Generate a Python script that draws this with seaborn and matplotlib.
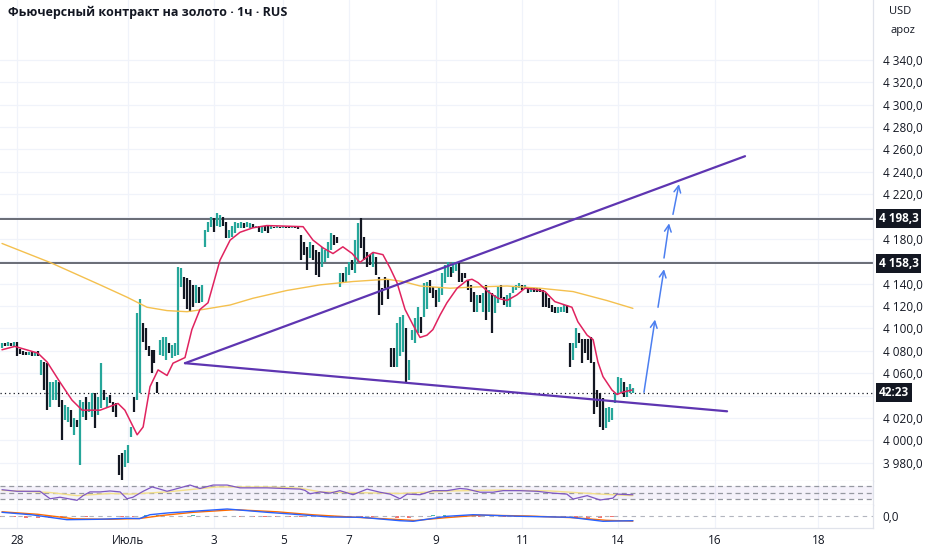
import numpy as np
import pandas as pd
import matplotlib
matplotlib.use("Agg")
import matplotlib.pyplot as plt
import matplotlib.transforms as mtransforms
import seaborn as sns

# Hourly bars (price), 1 = up bar (teal), 0 = down bar (black)
highs = [
    4087, 4087, 4088, 4087, 4088, 4088, 4082, 4080, 4079, 4079, 4079, 4079,
    4080, 4072, 4070, 4069, 4052, 4052, 4054, 4052, 4036, 4032, 4030, 4027,
    4020, 4018, 4036, 4034, 4039, 4034, 4042, 4042, 4039, 4069, 4045, 4039,
    4041, 4034, 4033, 3987, 3989, 3991, 3996, 4012, 4039, 4114, 4126, 4105,
    4100, 4084, 4081, 4081, 4052, 4090, 4092, 4092, 4087, 4085, 4087, 4155,
    4154, 4146, 4145, 4143, 4139, 4139, 4137, 4139, 4188, 4195, 4200, 4199,
    4203, 4201,
    4200, 4195, 4188, 4192, 4195, 4194, 4195, 4194, 4195, 4194, 4193, 4192,
    4192, 4192, 4192, 4192, 4192, 4191, 4192, 4191, 4192, 4191, 4191, 4192,
    4191, 4191, 4184, 4177, 4173, 4177, 4175, 4170, 4168, 4173, 4170, 4177,
    4185, 4184, 4182, 4150, 4150, 4155, 4159, 4161, 4179, 4194, 4199, 4182,
    4168, 4166, 4168, 4164, 4146, 4136, 4146, 4143, 4083, 4083, 4105, 4110,
    4112, 4100, 4072, 4099, 4109, 4119, 4110, 4141, 4142,
    4143, 4137, 4134, 4137, 4150, 4157, 4159, 4155, 4159, 4159, 4159, 4150,
    4150, 4143, 4139, 4133, 4130, 4130, 4132, 4139, 4134, 4132, 4130, 4137,
    4139, 4128, 4130, 4132, 4137, 4139, 4141, 4139, 4139, 4137, 4136, 4136,
    4136, 4136, 4134, 4132, 4127, 4121, 4119, 4119, 4119, 4121, 4121, 4087,
    4087, 4100, 4096, 4091, 4091, 4091, 4092, 4070, 4045, 4042, 4038, 4029,
    4030, 4029, 4042, 4057, 4056, 4052, 4048, 4050, 4047,
]
lows = [
    4083, 4084, 4084, 4084, 4084, 4075, 4077, 4076, 4076, 4076, 4075, 4075,
    4075, 4058, 4045, 4027, 4030, 4036, 4036, 4030, 4000, 4018, 4016, 4012,
    4005, 4012, 3978, 4021, 4018, 4025, 4021, 4011, 4023, 4029, 4036, 4029,
    4033, 4025, 4021, 3969, 3965, 3976, 3980, 4003, 4025, 4036, 4042, 4088,
    4081, 4075, 4060, 4069, 4042, 4076, 4075, 4072, 4078, 4074, 4075, 4076,
    4137, 4126, 4117, 4115, 4119, 4123, 4123, 4124, 4173, 4186, 4191, 4186,
    4192, 4191,
    4192, 4181, 4181, 4182, 4185, 4190, 4190, 4190, 4191, 4190, 4190, 4190,
    4186, 4185, 4187, 4185, 4189, 4190, 4190, 4190, 4190, 4190, 4190, 4190,
    4190, 4189, 4161, 4166, 4152, 4163, 4161, 4148, 4146, 4155, 4159, 4163,
    4170, 4175, 4176, 4137, 4141, 4142, 4148, 4152, 4150, 4159, 4172, 4161,
    4155, 4157, 4155, 4148, 4112, 4121, 4136, 4126, 4066, 4066, 4066, 4075,
    4079, 4051, 4054, 4090, 4087, 4096, 4096, 4110, 4117,
    4132, 4127, 4119, 4124, 4130, 4141, 4146, 4146, 4150, 4151, 4142, 4142,
    4145, 4134, 4124, 4115, 4115, 4123, 4115, 4108, 4115, 4096, 4114, 4123,
    4127, 4121, 4119, 4119, 4132, 4134, 4136, 4134, 4136, 4132, 4133, 4133,
    4133, 4133, 4119, 4119, 4118, 4115, 4114, 4114, 4115, 4115, 4114, 4066,
    4072, 4083, 4087, 4069, 4078, 4072, 4069, 4024, 4030, 4012, 4009, 4011,
    4016, 4018, 4033, 4042, 4043, 4039, 4039, 4042, 4042,
]
ups = [
    1, 0, 1, 0, 1, 0, 0, 0, 0, 1, 0, 1,
    0, 1, 0, 0, 1, 1, 1, 0, 0, 1, 1, 0,
    1, 0, 1, 1, 0, 1, 1, 0, 1, 1, 0, 1,
    0, 0, 0, 0, 0, 1, 1, 1, 0, 1, 1, 0,
    0, 0, 0, 0, 0, 1, 1, 1, 0, 1, 1, 1,
    1, 0, 0, 0, 0, 1, 0, 1, 1, 1, 1, 0,
    1, 1,
    0, 0, 1, 1, 1, 1, 1, 0, 1, 1, 0, 1,
    0, 1, 0, 0, 1, 0, 1, 0, 1, 0, 0, 1,
    0, 0, 0, 0, 0, 1, 0, 0, 0, 1, 1, 1,
    1, 0, 0, 1, 0, 1, 1, 0, 1, 1, 0, 0,
    0, 0, 1, 0, 0, 0, 0, 0, 0, 0, 1, 1,
    1, 0, 1, 1, 1, 1, 0, 1, 1,
    0, 0, 0, 1, 1, 1, 1, 0, 1, 1, 0, 0,
    0, 0, 0, 0, 1, 0, 1, 0, 1, 0, 1, 1,
    0, 0, 1, 1, 1, 1, 1, 0, 1, 0, 1, 0,
    0, 0, 0, 0, 0, 0, 0, 1, 1, 1, 0, 0,
    1, 1, 0, 0, 0, 0, 0, 0, 0, 0, 0, 1,
    1, 1, 1, 1, 1, 0, 1, 1, 1,
]

# fast moving average (red) and slow moving average (yellow), bar index -> price
red_idx = [0, 4.3, 12, 15.1, 19.4, 23.4, 26.8, 32.8, 38.8, 41.1,
           45.2, 47.2, 49.5, 52.2, 55.2, 57.2, 61.2, 63.5, 66.2, 68.9,
           72.9, 76.3, 79.6, 83.9, 88.6, 100.7, 104, 107.4, 110.7, 114,
           117.1, 119.7, 122.1, 124.1, 127.4, 129.8, 132.1, 134.8, 137.5, 139.8,
           142.1, 144.1, 146.5, 148.8, 152.2, 155.5, 157.2, 159.2, 162.5, 165.9,
           168.9, 172.2, 174.9, 178.3, 181.6, 184.9, 188.3, 190.6, 192.6, 195.7,
           197.7, 199.3, 201, 204, 205.7, 207.4, 210.7]
red_val = [4081, 4084, 4078, 4070, 4052, 4036, 4027, 4027, 4033, 4027,
           4005, 4012, 4048, 4063, 4058, 4069, 4074, 4099, 4117, 4123,
           4161, 4179, 4186, 4190, 4192, 4191, 4179, 4172, 4167, 4173,
           4167, 4159, 4164, 4168, 4166, 4154, 4141, 4117, 4103, 4092,
           4094, 4099, 4112, 4123, 4136, 4143, 4144, 4141, 4133, 4127,
           4125, 4130, 4136, 4135, 4133, 4124, 4121, 4119, 4106, 4094,
           4090, 4070, 4057, 4045, 4041, 4043, 4045]
yel_idx = [0, 16.1, 32.8, 41.8, 48.5, 55.2, 61.9, 67.2, 76.3, 83.9, 95.3, 106.4,
           117.4, 128.8, 134.1, 139.8, 149.8, 157.5, 168.9, 179.9, 191, 202.3, 211]
yel_val = [4176, 4159, 4139, 4128, 4119, 4116, 4115, 4117, 4121, 4127, 4134, 4139,
           4142, 4144, 4142, 4138, 4136, 4137, 4138, 4136, 4133, 4125, 4118]

# RSI pane
rsi_idx = [0, 5, 12.7, 16.1, 19.4, 25.1, 27.1, 29.4, 32.8, 36.1,
           39.5, 41.8, 43.8, 47.2, 50.2, 52.8, 55.2, 57.2, 62.9, 66.2,
           70.6, 75.3, 79.6, 88.6, 99.7, 101.3, 103, 106.4, 109.7, 113,
           117.4, 122.1, 126.4, 129.8, 133.1, 135.5, 139.8, 144.1, 148.8, 153.2,
           155.5, 159.9, 164.2, 167.6, 173.2, 178.9, 184.3, 188.9, 191, 195.7,
           200, 204.3, 205.7, 210, 211]
rsi_val = [59, 54, 54, 30, 35, 25, 40, 52, 52, 55,
           52, 30, 35, 54, 68, 61, 54, 59, 74, 63,
           74, 74, 65, 65, 61, 57, 46, 52, 48, 56,
           43, 61, 51, 45, 30, 45, 43, 56, 56, 63,
           61, 51, 51, 56, 56, 54, 48, 45, 29, 40,
           26, 32, 45, 43, 43]
rsima_idx = [0, 5, 16.1, 25.1, 36.1, 42.8, 55.2, 72, 88.6, 99.7, 106.4, 117.4,
             133.1, 149.8, 166.6, 183.3, 200, 211]
rsima_val = [57, 55, 50, 40, 47, 45, 52, 68, 68, 64, 52, 50,
             47, 55, 58, 55, 45, 40]

# MACD pane
macd_idx = [0, 10, 21.7, 32, 41.8, 46, 49.5, 56, 63.9, 75.3, 88.6, 99.7,
            109.7, 120, 133.1, 137.5, 148.8, 157.5, 173.2, 190, 201, 211]
macd_val = [4, 1.5, -3.4, -3, -2, -2.3, 1.6, 3.5, 5, 7.3, 4, 1.6,
            -0.7, -1, -4.4, -5, 0, 1.6, 0, -1, -5, -4.4]
sig_idx = [0, 12, 24, 36, 46, 54, 64, 78, 92, 104, 116, 128, 138, 148, 160, 176,
           192, 202, 211]
sig_val = [4.5, 2, -2.5, -3, -2.2, 1, 4, 6.6, 4.5, 1.5, -0.6, -2.5, -4.2, -1.5,
           1.2, 0.3, -1.5, -4, -4.8]
hist_idx = [0, 4, 8, 12, 16, 20, 24, 28, 32, 36, 40, 44, 48, 52, 56, 60, 64, 68,
            72, 76, 80, 84, 88, 92, 96, 100, 104, 108, 112, 116, 120, 124, 128,
            132, 136, 140, 144, 148, 152, 156, 160, 164, 168, 172, 176, 180, 184,
            188, 192, 196, 200, 204, 208]
hist_val = [-0.8, -1.0, -1.2, -1.3, -1.2, -0.8, -0.5, -0.3, 0.2, 0.4,
            -0.4, -0.8, 1.2, 1.4, 0.8, 0.6, 1.0, 0.6, 0.4, 0.3,
            -0.5, -0.8, -0.9, -1.0, -1.0, -0.9, -0.8, -0.7, -0.4, -0.3,
            -0.3, -0.5, -1.0, -1.5, -1.4, -0.6, 1.0, 1.4, 0.8, 0.3,
            -0.6, -0.9, -0.5, -0.2, 0.2, -0.3, -0.6, -0.8, -1.4, -1.6,
            -1.5, -1.0, 0.8]

# drawings
levels = [4198.3, 4158.3]
last_price = 4042.6
trend_upper = [(61.2, 4069), (248.5, 4254)]
trend_lower = [(61.2, 4069), (242.5, 4026)]
arrows = [(214.7, 4043, 218.4, 4108), (219.4, 4119, 221.4, 4153),
          (221.4, 4163, 223.1, 4194), (224.4, 4202, 226.4, 4229)]

tick_pos = [5, 42, 71, 94, 116, 145, 174, 206, 238.5, 273]
tick_lab = ["28", "Июль", "3", "5", "7", "9", "11", "14", "16", "18"]
price_ticks = [3980, 4000, 4020, 4060, 4080, 4100, 4120, 4140, 4180,
               4220, 4240, 4260, 4280, 4300, 4320, 4340]

UP = "#26a69a"
DOWN = "#131722"
TXT = "#131722"
GRID = "#f0f3fa"
BORDER = "#e0e3eb"

sns.set_theme(style="white")
plt.rcParams["font.family"] = ["Open Sans", "DejaVu Sans"]

W, H = 932, 550
fig = plt.figure(figsize=(W / 100, H / 100), dpi=100)


def rect(top, bottom):
    return [0, 1 - bottom / H, 873 / W, (bottom - top) / H]


ax = fig.add_axes(rect(0, 481))
ax_rsi = fig.add_axes(rect(481, 505), sharex=ax)
ax_macd = fig.add_axes(rect(505, 528), sharex=ax)

for a in (ax, ax_rsi, ax_macd):
    for t in tick_pos:
        a.axvline(t, color=GRID, lw=0.9, zorder=0)
    for s in ("left", "top"):
        a.spines[s].set_visible(False)
    for s in ("right", "bottom"):
        a.spines[s].set_color(BORDER)
        a.spines[s].set_linewidth(0.9)
    a.tick_params(length=0)

for p in range(3980, 4360, 20):
    ax.axhline(p, color=GRID, lw=0.9, zorder=0)

# price bars
bars = pd.DataFrame({"high": highs, "low": lows, "up": ups})
bars["i"] = np.arange(len(bars))
bar_colors = np.where(bars["up"] == 1, UP, DOWN)
ax.vlines(bars["i"], bars["low"], bars["high"], colors=bar_colors, linewidth=1.6, zorder=3)

sns.lineplot(x=yel_idx, y=yel_val, ax=ax, color="#f4c04e", linewidth=1.0, zorder=4)
sns.lineplot(x=red_idx, y=red_val, ax=ax, color="#e0235f", linewidth=1.1, zorder=4)

for lv in levels:
    ax.axhline(lv, color="#5d606b", lw=1.3, zorder=2)
ax.axhline(last_price, color=TXT, lw=0.9, linestyle=(0, (1, 2.5)), zorder=2)

for seg in (trend_upper, trend_lower):
    ax.plot([seg[0][0], seg[1][0]], [seg[0][1], seg[1][1]], color="#5e35b1", lw=1.6, zorder=5)

for x0, y0, x1, y1 in arrows:
    ax.annotate("", xy=(x1, y1), xytext=(x0, y0),
                arrowprops=dict(arrowstyle="->", color="#4c7ff0", lw=1.1,
                                shrinkA=0, shrinkB=0, mutation_scale=12),
                zorder=6)

ax.set_xlim(-0.67, 291.3)
ax.set_ylim(3963.7, 4393.6)
ax.yaxis.tick_right()
ax.set_yticks(price_ticks)
ax.set_yticklabels([f"{v // 1000} {v % 1000:03d},0" for v in price_ticks])
ax.tick_params(axis="y", labelsize=8.5, labelcolor=TXT, pad=7)
ax.tick_params(axis="x", labelbottom=False)
ax.set_xlabel("")
ax.set_ylabel("")

# price tags on the scale
tr = mtransforms.blended_transform_factory(ax.transAxes, ax.transData)
for val, lab in [(4198.3, "4 198,3"), (4158.3, "4 158,3"), (last_price, "42:23")]:
    ax.annotate(lab, xy=(1, val), xycoords=tr, xytext=(4, 0), textcoords="offset points",
                ha="left", va="center", color="white", fontsize=8.5, fontweight="bold",
                bbox=dict(boxstyle="square,pad=0.25", fc=TXT, ec="none"),
                annotation_clip=False, zorder=10)

# RSI pane
ax_rsi.axhspan(30, 70, color="#7e57c2", alpha=0.08, lw=0)
for lv in (30, 50, 70):
    ax_rsi.axhline(lv, color="#9598a1", lw=0.9, linestyle=(0, (4, 3)))
sns.lineplot(x=rsima_idx, y=rsima_val, ax=ax_rsi, color="#f3e08c", linewidth=1.0)
sns.lineplot(x=rsi_idx, y=rsi_val, ax=ax_rsi, color="#7e57c2", linewidth=0.9)
ax_rsi.set_ylim(10, 87)
ax_rsi.set_yticks([])
ax_rsi.tick_params(axis="x", labelbottom=False)
ax_rsi.set_xlabel("")
ax_rsi.set_ylabel("")

# MACD pane
ax_macd.axhline(0, color="#b2b5be", lw=0.8, linestyle=(0, (4, 4)))
hist_colors = ["#26a69a" if v > 0 else "#ef5350" for v in hist_val]
ax_macd.bar(hist_idx, hist_val, width=1.3, color=hist_colors, linewidth=0, alpha=0.8)
sns.lineplot(x=sig_idx, y=sig_val, ax=ax_macd, color="#ff6d00", linewidth=1.0)
sns.lineplot(x=macd_idx, y=macd_val, ax=ax_macd, color="#2962ff", linewidth=1.0)
ax_macd.set_ylim(-11.7, 11.3)
ax_macd.yaxis.tick_right()
ax_macd.set_yticks([0])
ax_macd.set_yticklabels(["0,0"])
ax_macd.tick_params(axis="y", labelsize=8.5, labelcolor=TXT, pad=7)
ax_macd.set_xticks(tick_pos)
ax_macd.set_xticklabels(tick_lab)
ax_macd.tick_params(axis="x", labelsize=8.5, labelcolor=TXT, pad=4)
ax_macd.set_xlabel("")
ax_macd.set_ylabel("")
ax_macd.set_xlim(-0.67, 291.3)

fig.text(8 / W, 1 - 12 / H, "Фьючерсный контракт на золото · 1ч · RUS",
         fontsize=9, fontweight="bold", color=TXT, va="center", ha="left")
fig.text(900 / W, 1 - 12 / H, "USD", fontsize=8, color=TXT, va="center", ha="center")
fig.text(903 / W, 1 - 31 / H, "apoz", fontsize=8, color=TXT, va="center", ha="center")

fig.savefig("out.png", dpi=100)
